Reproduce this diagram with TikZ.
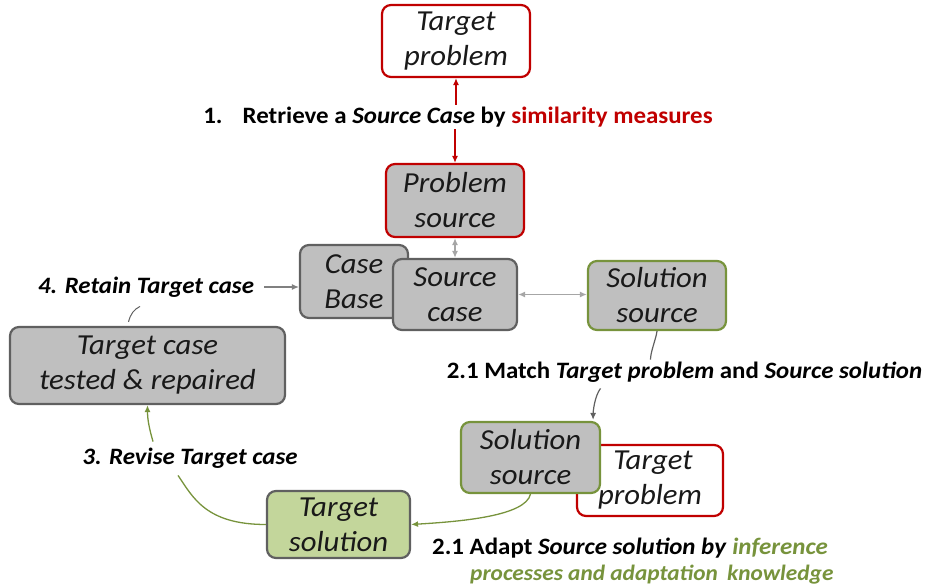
\documentclass[tikz,border=0pt]{standalone}
\usepackage{fontspec}
\setmainfont{Carlito}[FakeStretch=1.06]
\usetikzlibrary{arrows.meta,calc}
\definecolor{dred}{HTML}{C00000}
\definecolor{gfill}{HTML}{BFBFBF}
\definecolor{gline}{HTML}{606060}
\definecolor{grn}{HTML}{77933C}
\definecolor{grnfill}{HTML}{C3D69B}
\definecolor{larr}{HTML}{A6A6A6}
\begin{document}
\begin{tikzpicture}[x=1pt,y=-1pt,
  box/.style={rounded corners=9pt,line width=2.2pt,align=center,inner sep=0pt,
    font=\itshape\fontsize{29}{35}\selectfont,text=black!90},
  redbox/.style={box,draw=dred,fill=white},
  redgray/.style={box,draw=dred,fill=gfill},
  graybox/.style={box,draw=gline,fill=gfill},
  grnbox/.style={box,draw=grn,fill=gfill},
  grnfull/.style={box,draw=gline,fill=grnfill},
  lbl/.style={font=\bfseries\fontsize{23.5}{26}\selectfont,inner sep=2pt},
  tip/.style={-{Latex[length=7pt,width=6pt]}},
  dtip/.style={{Latex[length=7pt,width=6pt]}-{Latex[length=7pt,width=6pt]}},
]
\useasboundingbox (0,0) rectangle (926,588);
\node[redbox,minimum width=148pt,minimum height=72pt] (tp) at (456,41) {Target\\problem};
\node[lbl] (l1) at (458,117) {1.\hspace{20pt}Retrieve a \textit{Source Case} by \textcolor{dred}{similarity measures}};
\node[redgray,minimum width=138pt,minimum height=73pt] (ps) at (455,200.5) {Problem\\source};
\node[graybox,minimum width=108pt,minimum height=73pt] (cb) at (354,281.5) {Case\\Base};
\node[graybox,minimum width=124pt,minimum height=71pt] (sc) at (455,294.5) {Source\\case};
\node[grnbox,minimum width=138pt,minimum height=69pt] (ss) at (657,295.5) {Solution\\source};
\node[lbl] (l21) at (684.5,372) {2.1 Match \textit{Target problem} and \textit{Source solution}};
\node[redbox,minimum width=146pt,minimum height=71pt] (tp2) at (650,480.5) {\hspace*{6pt}Target\\problem};
\node[grnbox,minimum width=139pt,minimum height=71pt] (ss2) at (530.5,457.5) {Solution\\source};
\node[grnfull,minimum width=143pt,minimum height=67pt] (ts) at (338.5,524.5) {Target\\solution};
\node[lbl,align=left,anchor=west] (l22) at (430,561) {2.1 Adapt \textit{Source solution by} \textcolor{grn}{\textit{inference}}\\\hspace*{38pt}{\fontsize{22}{26}\selectfont\textcolor{grn}{\textit{processes and adaptation\hspace{4pt} knowledge}}}};
\node[lbl] (l3) at (190,458) {\textit{3. Revise Target case}};
\node[graybox,minimum width=275pt,minimum height=77pt] (tc) at (147.5,365.5) {Target case\\tested \& repaired};
\node[lbl] (l4) at (146,287) {\textit{4. Retain Target case}};
% connectors
\draw[dred,line width=1.3pt,tip] (l1.north -| tp.south) -- (tp.south);
\draw[dred,line width=1.3pt,tip] (l1.south -| ps.north) -- (ps.north);
\draw[larr,line width=1.8pt,dtip] (ps.south) -- (sc.north -| ps.south);
\draw[larr,line width=1.8pt,dtip] (sc.east) -- (ss.west |- sc.east);
\coordinate (a1) at ($(l21.north)+(-34,0)$);
\draw[gline,line width=1.2pt] (ss.south) .. controls ($(ss.south)+(-1,8)$) and ($(a1)+(0,-8)$) .. (a1);
\coordinate (a2) at ($(l21.south)+(-84,4)$);
\coordinate (a3) at ($(ss2.north east)+(-8,-1)$);
\draw[gline,line width=1.2pt,tip] (a2) .. controls ($(a2)+(-6,8)$) and ($(a3)+(0,-8)$) .. (a3);
\draw[grn,line width=1.3pt,tip] (ss2.south) .. controls ($(ss2.south)+(-5,22)$) and ($(ts.east)+(50,-3)$) .. (ts.east);
\coordinate (a4) at ($(l3.south)+(-12,5)$);
\draw[grn,line width=1.3pt] (ts.west) .. controls ($(ts.west)+(-60,0)$) and ($(a4)+(15,22)$) .. (a4);
\coordinate (a5) at ($(l3.north)+(-37,-4)$);
\draw[grn,line width=1.3pt,tip] (a5) .. controls ($(a5)+(-4,-14)$) and ($(tc.south)+(0,14)$) .. (tc.south);
\coordinate (a6) at ($(l4.south)+(-6,7)$);
\coordinate (a7) at ($(tc.north)+(-19,-4)$);
\draw[gline,line width=1pt] (a7) .. controls ($(a7)+(2,-8)$) and ($(a6)+(-6,3)$) .. (a6);
\draw[gline!80,line width=1.2pt,tip] ($(l4.east)+(8,0)$) -- (cb.west |- l4.east);
\end{tikzpicture}
\end{document}
